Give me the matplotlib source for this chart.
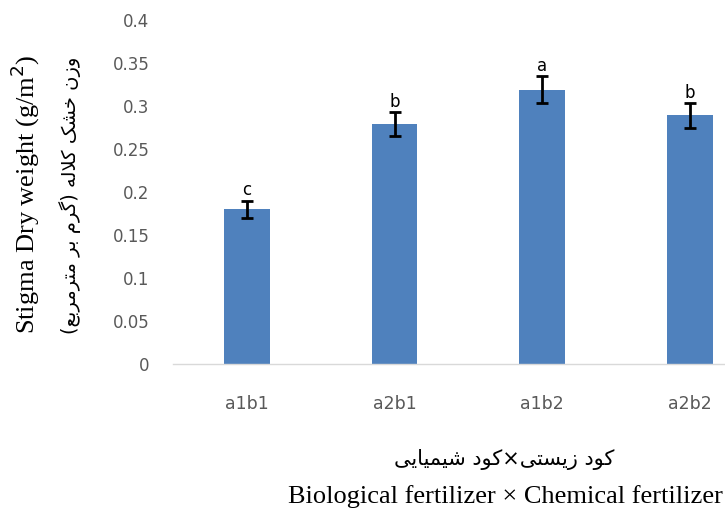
import numpy as np
import matplotlib.pyplot as plt

plt.rcParams['font.family'] = ['DejaVu Sans']

treat = ['a1b1', 'a2b1', 'a1b2', 'a2b2']
dry_weight = [0.18, 0.279, 0.319, 0.289]
err = [0.010, 0.014, 0.016, 0.0145]
letters = ['c', 'b', 'a', 'b']
yticks = [0, 0.05, 0.1, 0.15, 0.2, 0.25, 0.3, 0.35, 0.4]
ylabel_fa = 'وزن خشک کلاله (گرم بر مترمربع)'
xlabel_fa = 'کود زیستی×کود شیمیایی'

# simple persian shaping (matplotlib has no bidi/shaping)
forms = {
    'ا': ('\ufe8d', '\ufe8e'), 'د': ('\ufea9', '\ufeaa'), 'ر': ('\ufead', '\ufeae'),
    'ز': ('\ufeaf', '\ufeb0'), 'و': ('\ufeed', '\ufeee'),
    'ب': ('\ufe8f', '\ufe90', '\ufe91', '\ufe92'), 'ت': ('\ufe95', '\ufe96', '\ufe97', '\ufe98'),
    'خ': ('\ufea5', '\ufea6', '\ufea7', '\ufea8'), 'س': ('\ufeb1', '\ufeb2', '\ufeb3', '\ufeb4'),
    'ش': ('\ufeb5', '\ufeb6', '\ufeb7', '\ufeb8'), 'ع': ('\ufec9', '\ufeca', '\ufecb', '\ufecc'),
    'ل': ('\ufedd', '\ufede', '\ufedf', '\ufee0'), 'م': ('\ufee1', '\ufee2', '\ufee3', '\ufee4'),
    'ن': ('\ufee5', '\ufee6', '\ufee7', '\ufee8'), 'ه': ('\ufee9', '\ufeea', '\ufeeb', '\ufeec'),
    'ک': ('\ufb8e', '\ufb8f', '\ufb90', '\ufb91'), 'گ': ('\ufb92', '\ufb93', '\ufb94', '\ufb95'),
    'ی': ('\ufbfc', '\ufbfd', '\ufbfe', '\ufbff'),
    'LA': ('\ufefb', '\ufefc'),
}

def shape(s):
    chars = []
    i = 0
    while i < len(s):
        if s[i] == 'ل' and i + 1 < len(s) and s[i+1] == 'ا':
            chars.append('LA'); i += 2
        else:
            chars.append(s[i]); i += 1
    out = []
    for i, c in enumerate(chars):
        if c not in forms:
            out.append(c); continue
        f = forms[c]
        prev = i > 0 and chars[i-1] in forms and len(forms[chars[i-1]]) == 4
        nxt = i + 1 < len(chars) and chars[i+1] in forms and len(f) == 4
        if prev and nxt:
            out.append(f[3])
        elif prev:
            out.append(f[1])
        elif nxt:
            out.append(f[2])
        else:
            out.append(f[0])
    vis = ''.join(out)[::-1]
    return vis.translate(str.maketrans('()', ')('))

fig = plt.figure(figsize=(7.25, 5.13), dpi=100)
ax = fig.add_axes([173/725, 149/513, 554/725, 344/513])

x = np.arange(len(treat))
ax.bar(x, dry_weight, width=0.31, color='#4F81BD', zorder=2)
ax.errorbar(x, dry_weight, yerr=err, fmt='none', ecolor='black', elinewidth=2,
            capsize=4, capthick=2, zorder=3)
for xi, v, e, l in zip(x, dry_weight, err, letters):
    ax.annotate(l, (xi, v + e), xytext=(0, 1), textcoords='offset points',
                ha='center', va='bottom', fontsize=12, color='black')

ax.set_xlim(-0.5, 3.25)
ax.set_ylim(0, 0.4)
ax.set_yticks(yticks)
ax.set_yticklabels(['0' if t == 0 else ('%g' % t) for t in yticks])
ax.set_xticks(x)
ax.set_xticklabels(treat)
ax.tick_params(axis='y', length=0, pad=17, labelsize=12, labelcolor='#595959')
ax.tick_params(axis='x', length=0, pad=22, labelsize=12.5, labelcolor='#595959')
for s in ['top', 'right', 'left']:
    ax.spines[s].set_visible(False)
ax.spines['bottom'].set_color('#D9D9D9')
ax.spines['bottom'].set_linewidth(1)

fig.text(25/725, 1 - 194/513, 'Stigma Dry weight (g/m$^2$)', rotation=90,
         ha='center', va='center', fontsize=19, family='Liberation Serif')
fig.text(70/725, 1 - 195/513, shape(ylabel_fa), rotation=90,
         ha='center', va='center', fontsize=14, family='DejaVu Sans')
fig.text(504/725, 1 - 460/513, shape(xlabel_fa),
         ha='center', va='center', fontsize=15, family='DejaVu Sans')
fig.text(505/725, 1 - 497/513, 'Biological fertilizer × Chemical fertilizer',
         ha='center', va='center', fontsize=19, family='Liberation Serif')

plt.savefig('out.png')
